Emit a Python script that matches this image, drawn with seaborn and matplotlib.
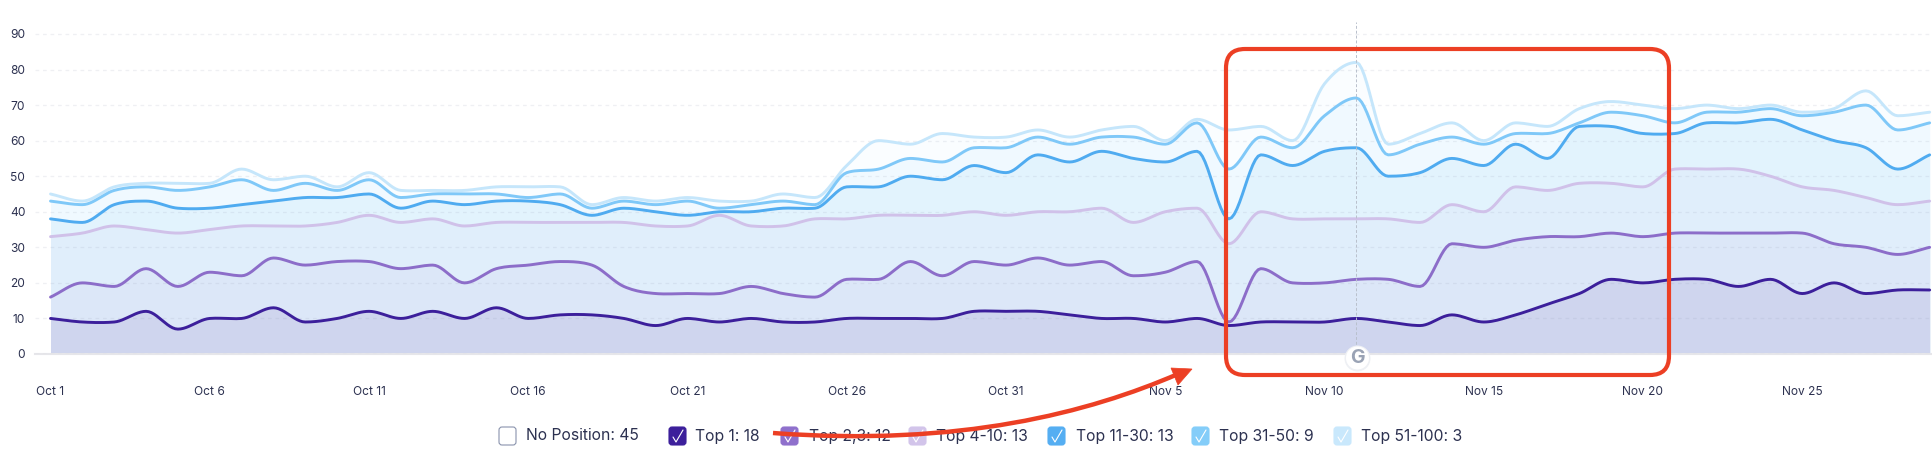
import numpy as np
import pandas as pd
import matplotlib
matplotlib.use("Agg")
import matplotlib.pyplot as plt
import seaborn as sns
from matplotlib.patches import Circle, FancyBboxPatch, PathPatch, Polygon
from matplotlib.path import Path

# cumulative rank counts per day, Oct 1 - Nov 29
top_1 = [10, 9, 9, 12, 7, 10, 10, 13, 9, 10, 12, 10, 12, 10, 13, 10, 11, 11, 10, 8,
         10, 9, 10, 9, 9, 10, 10, 10, 10, 12, 12, 12, 11, 10, 10, 9, 10, 8, 9, 9,
         9, 10, 9, 8, 11, 9, 11, 14, 17, 21, 20, 21, 21, 19, 21, 17, 20, 17, 18, 18]
top_2_3 = [16, 20, 19, 24, 19, 23, 22, 27, 25, 26, 26, 24, 25, 20, 24, 25, 26, 25, 19, 17,
           17, 17, 19, 17, 16, 21, 21, 26, 22, 26, 25, 27, 25, 26, 22, 23, 26, 9, 24, 20,
           20, 21, 21, 19, 31, 30, 32, 33, 33, 34, 33, 34, 34, 34, 34, 34, 31, 30, 28, 30]
top_4_10 = [33, 34, 36, 35, 34, 35, 36, 36, 36, 37, 39, 37, 38, 36, 37, 37, 37, 37, 37, 36,
            36, 39, 36, 36, 38, 38, 39, 39, 39, 40, 39, 40, 40, 41, 37, 40, 41, 31, 40, 38,
            38, 38, 38, 37, 42, 40, 47, 46, 48, 48, 47, 52, 52, 52, 50, 47, 46, 44, 42, 43]
top_11_30 = [38, 37, 42, 43, 41, 41, 42, 43, 44, 44, 45, 41, 43, 42, 43, 43, 42, 39, 41, 40,
             39, 40, 40, 41, 41, 47, 47, 50, 49, 53, 51, 56, 54, 57, 55, 54, 57, 38, 56, 53,
             57, 58, 50, 51, 55, 53, 59, 55, 64, 64, 62, 62, 65, 65, 66, 63, 60, 58, 52, 56]
top_31_50 = [43, 42, 46, 47, 46, 47, 49, 46, 48, 46, 49, 44, 45, 45, 45, 44, 45, 41, 43, 42,
             43, 41, 42, 43, 42, 51, 52, 55, 54, 58, 58, 61, 59, 61, 61, 59, 65, 52, 61, 58,
             67, 72, 56, 59, 61, 59, 62, 62, 65, 68, 67, 65, 68, 68, 69, 67, 68, 70, 63, 65]
top_51_100 = [45, 43, 47, 48, 48, 48, 52, 49, 50, 47, 51, 46, 46, 46, 47, 47, 47, 42, 44, 43,
              44, 43, 43, 45, 44, 53, 60, 59, 62, 61, 61, 63, 61, 63, 64, 60, 66, 63, 64, 60,
              76, 82, 59, 62, 65, 60, 65, 64, 69, 71, 70, 69, 70, 69, 70, 68, 69, 74, 67, 68]

series_names = ["Top 51-100", "Top 31-50", "Top 11-30", "Top 4-10", "Top 2,3", "Top 1"]
series_values = [top_51_100, top_31_50, top_11_30, top_4_10, top_2_3, top_1]
line_colors = ["#c5e6fb", "#7fc8f8", "#4fabf0", "#d0c1e9", "#8c6dc9", "#3c1f9b"]
fill_colors = ["#fafdff", "#f0f9ff", "#e2f3fd", "#e0eefb", "#dce7f8", "#cfd5ee"]

x_labels = ["Oct 1", "Oct 6", "Oct 11", "Oct 16", "Oct 21", "Oct 26", "Oct 31",
            "Nov 5", "Nov 10", "Nov 15", "Nov 20", "Nov 25"]
y_ticks = [0, 10, 20, 30, 40, 50, 60, 70, 80, 90]
legend_labels = ["No Position: 45", "Top 1: 18", "Top 2,3: 12", "Top 4-10: 13",
                 "Top 11-30: 13", "Top 31-50: 9", "Top 51-100: 3"]
legend_colors = ["#ffffff", "#3c1f9b", "#8f70cc", "#d2c4ea", "#55aef2", "#84cdf9", "#c9e8fc"]
legend_box_x = [499, 669, 781, 909, 1048, 1192, 1334]
legend_text_x = [525.5, 695, 809, 935.5, 1076, 1219, 1361]


def smooth(y, n=12):
    # cubic curve through the daily values, flat only at real peaks and dips
    y = np.asarray(y, dtype=float)
    d = np.diff(y)
    m = np.zeros(len(y))
    m[0], m[-1] = d[0], d[-1]
    for i in range(1, len(y) - 1):
        if d[i - 1] * d[i] >= 0:
            m[i] = (d[i - 1] + d[i]) / 2
            m[i] = np.sign(m[i]) * min(abs(m[i]), 3 * max(min(abs(d[i - 1]), abs(d[i])), 0.25))
    xs, ys = [], []
    for i in range(len(y) - 1):
        t = np.linspace(0, 1, n, endpoint=False)
        h00 = 2 * t**3 - 3 * t**2 + 1
        h10 = t**3 - 2 * t**2 + t
        h01 = -2 * t**3 + 3 * t**2
        h11 = t**3 - t**2
        xs.append(i + t)
        ys.append(h00 * y[i] + h10 * m[i] + h01 * y[i + 1] + h11 * m[i + 1])
    xs.append([len(y) - 1])
    ys.append([y[-1]])
    return np.concatenate(xs), np.concatenate(ys)


sns.set_theme(style="white")
plt.rcParams["font.family"] = ["Inter", "DejaVu Sans"]

W, H = 1932, 454
fig = plt.figure(figsize=(W / 100, H / 100), dpi=100)
ax = fig.add_axes([35 / W, (H - 354) / H, (W - 35) / W, (354 - 22) / H])

frames = []
for name, vals, fill in zip(series_names, series_values, fill_colors):
    sx, sy = smooth(vals)
    ax.fill_between(sx, 0, sy, color=fill, lw=0, zorder=1)
    frames.append(pd.DataFrame({"day": sx, "count": sy, "series": name}))
df = pd.concat(frames, ignore_index=True)

sns.lineplot(
    data=df, x="day", y="count", hue="series", hue_order=series_names,
    palette=line_colors, estimator=None, sort=False, linewidth=2.1,
    legend=False, ax=ax, zorder=3
)

ax.set_xlim((35 - 50.5) / 31.85, (W - 50.5) / 31.85)
ax.set_ylim(0, 332 / 3.556)
ax.set_xticks(range(0, 60, 5))
ax.set_xticklabels(x_labels)
ax.set_yticks(y_ticks)
ax.set_xlabel("")
ax.set_ylabel("")
ax.tick_params(axis="x", length=0, pad=23, labelsize=8.6, labelcolor="#2c3150")
ax.tick_params(axis="y", length=0, pad=7, labelsize=8.6, labelcolor="#2c3150")
ax.grid(axis="y", color="#8f96b0", alpha=0.14, linestyle=(0, (3, 3)), linewidth=0.9, zorder=2)
ax.set_axisbelow(False)
for s in ["top", "right", "left"]:
    ax.spines[s].set_visible(False)
ax.spines["bottom"].set_color("#e6e6ea")
ax.spines["bottom"].set_linewidth(1.5)

# hovered day marker
ax.axvline(41, color="#b9c0cc", linestyle=(0, (3, 2)), linewidth=0.7, zorder=4)

# overlay in pixel coordinates for the legend and the hand drawn annotation
ov = fig.add_axes([0, 0, 1, 1], facecolor="none")
ov.set_xlim(0, W)
ov.set_ylim(H, 0)
ov.axis("off")

ov.add_patch(Circle((1357.5, 358.5), 13, fc="#eef0f4", ec="none", zorder=5))
ov.add_patch(Circle((1357.5, 358), 11.5, fc="white", ec="none", zorder=6))
ov.text(1357.5, 358, "G", color="#9aa3b5", fontsize=14, fontweight="bold",
        ha="center", va="center", zorder=7)

for label, color, bx, tx in zip(legend_labels, legend_colors, legend_box_x, legend_text_x):
    ec = "#8a93ad" if color == "#ffffff" else color
    ov.add_patch(FancyBboxPatch((bx, 427), 17, 18, boxstyle="round,pad=0,rounding_size=3",
                                fc=color, ec=ec, lw=0.8, zorder=5))
    if color != "#ffffff":
        ov.plot([bx + 4, bx + 7, bx + 14], [437, 442, 430], color="white", lw=0.8, zorder=6)
    ov.text(tx, 436, label, color="#2c3150", fontsize=11.3, va="center", ha="left", zorder=6)

red = "#ec3f24"
ov.add_patch(FancyBboxPatch((1226, 49), 443, 326, boxstyle="round,pad=0,rounding_size=19",
                            fc="none", ec=red, lw=3.0, zorder=8))
curve = Path([(773, 433), (960, 447), (1090, 412), (1178, 374)],
             [Path.MOVETO, Path.CURVE4, Path.CURVE4, Path.CURVE4])
ov.add_patch(PathPatch(curve, fc="none", ec=red, lw=3.2, capstyle="butt", zorder=9))
ov.add_patch(Polygon([(1171, 368), (1192, 369), (1178, 385)], fc=red, ec=red, lw=0.5, zorder=9))

plt.savefig("out.png", dpi=100)
